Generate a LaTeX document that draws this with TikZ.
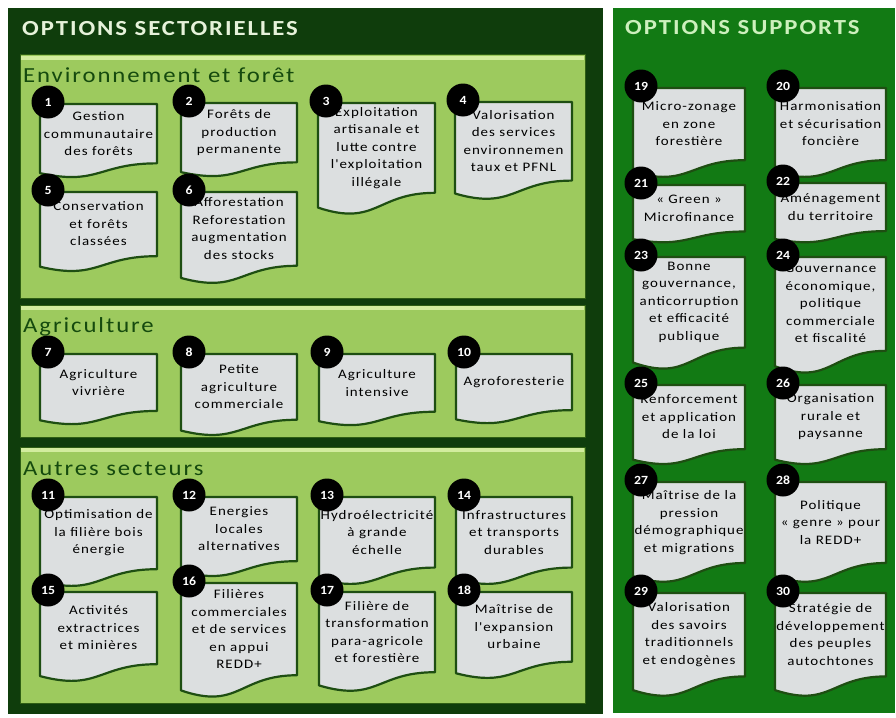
\documentclass[tikz,border=0pt]{standalone}
\usepackage{fontspec}
\setmainfont{Carlito}
\newfontfamily\docfont{Carlito}[FakeStretch=1.15,LetterSpace=8]
\newfontfamily\headfont{Carlito}[FakeStretch=1.15,LetterSpace=9]
\newfontfamily\numfont{Carlito}[FakeStretch=1.1]
\definecolor{leftframe}{HTML}{0F3D0C}
\definecolor{rightframe}{HTML}{127A14}
\definecolor{panelgreen}{HTML}{9DCA5E}
\definecolor{panelhi}{HTML}{D2EC9E}
\definecolor{paneledge}{HTML}{2E5E14}
\definecolor{docfill}{HTML}{DCDFE0}
\definecolor{docline}{HTML}{1E4E12}
\definecolor{headgreen}{HTML}{154A0E}
\definecolor{titleL}{HTML}{E6F2DA}
\definecolor{titleR}{HTML}{CDF0BD}
\tikzset{
  docbody/.style={fill=docfill, draw=docline, line width=2.2pt, line join=round},
  doctext/.style={font=\docfont\fontsize{13}{17.5}\selectfont, align=center, text=black, inner sep=0pt},
  numcirc/.style={circle, fill=black, minimum size=33pt, inner sep=0pt, text=white, font=\numfont\bfseries\fontsize{12.5}{12.5}\selectfont},
  panel/.style={fill=panelgreen, draw=paneledge, line width=1pt},
  heading/.style={anchor=base west, inner sep=0pt, text=headgreen, font=\headfont\fontsize{21.5}{21.5}\selectfont},
  titletext/.style={anchor=base west, inner sep=0pt, font=\headfont\bfseries\fontsize{21.5}{21.5}\selectfont},
}
\newcommand{\docitem}[7]{%
  \filldraw[docbody] (#2,#3) -- ({#2+#4},#3) -- ({#2+#4},{#3+0.802*#5}) .. controls ({#2+0.5*#4},{#3+0.802*#5}) and ({#2+0.5*#4},{#3+1.1075*#5}) .. (#2,{#3+0.934*#5}) -- cycle;
  \node[doctext] (#1) at ({#2+0.5*#4},{#3+0.40*#5}) {#7};
  \node[numcirc] (n#1) at ({#2+8},{#3-2}) {#6};
}
\begin{document}
\begin{tikzpicture}[x=1pt,y=-1pt]
\useasboundingbox (0,0) rectangle (896,717);
\fill[white] (0,0) rectangle (896,717);
% frames
\fill[leftframe] (8,8) rectangle (603,714);
\fill[rightframe] (613,8) rectangle (895,713);
\node[titletext, text=titleL] (tl) at (22,36) {OPTIONS SECTORIELLES};
\node[titletext, text=titleR] (tr) at (625,35) {OPTIONS SUPPORTS};
% panels
\filldraw[panel] (20,55) rectangle (585,298);
\fill[panelhi] (21,56) rectangle (584,60);
\filldraw[panel] (20,305) rectangle (585,437);
\fill[panelhi] (21,306) rectangle (584,310);
\filldraw[panel] (20,447) rectangle (585,703);
\fill[panelhi] (21,448) rectangle (584,452);
\node[heading] (h1) at (23,82) {Environnement et forêt};
\node[heading] (h2) at (23,332) {Agriculture};
\node[heading] (h3) at (23,475) {Autres secteurs};
% panel 1
\docitem{d1}{40}{104}{117}{74}{1}{Gestion\\communautaire\\des forêts}
\docitem{d2}{181}{103}{116}{74}{2}{Forêts de\\production\\permanente}
\docitem{d3}{318}{103}{117}{112}{3}{Exploitation\\artisanale et\\lutte contre\\l'exploitation\\illégale}
\docitem{d4}{455}{102}{117}{98}{4}{Valorisation\\des services\\environnemen\\taux et PFNL}
\docitem{d5}{40}{192}{117}{80}{5}{Conservation\\et forêts\\classées}
\docitem{d6}{181}{192}{116}{92}{6}{Afforestation\\Reforestation\\augmentation\\des stocks}
% panel 2
\docitem{d7}{40}{354}{117}{71}{7}{Agriculture\\vivrière}
\docitem{d8}{181}{354}{116}{82}{8}{Petite\\agriculture\\commerciale}
\docitem{d9}{319}{354}{116}{72}{9}{Agriculture\\intensive}
\docitem{d10}{456}{354}{116}{70}{10}{Agroforesterie}
% panel 3
\docitem{d11}{40}{497}{117}{90}{11}{Optimisation de\\la filière bois\\énergie}
\docitem{d12}{181}{497}{116}{80}{12}{Energies\\locales\\alternatives}
\docitem{d13}{319}{497}{116}{88}{13}{Hydroélectricité\\à grande\\échelle}
\docitem{d14}{456}{497}{116}{88}{14}{Infrastructures\\et transports\\durables}
\docitem{d15}{40}{592}{117}{90}{15}{Activités\\extractrices\\et minières}
\docitem{d16}{181}{583}{116}{115}{16}{Filières\\commerciales\\et de services\\en appui\\REDD+}
\docitem{d17}{319}{592}{116}{100}{17}{Filière de\\transformation\\para-agricole\\et forestière}
\docitem{d18}{456}{592}{116}{87}{18}{Maîtrise de\\l'expansion\\urbaine}
% supports
\docitem{d19}{633}{88}{112}{90}{19}{Micro-zonage\\en zone\\forestière}
\docitem{d20}{775}{88}{111}{90}{20}{Harmonisation\\et sécurisation\\foncière}
\docitem{d21}{633}{185}{112}{58}{21}{« Green »\\Microfinance}
\docitem{d22}{775}{183}{111}{60}{22}{Aménagement\\du territoire}
\docitem{d23}{633}{257}{112}{113}{23}{Bonne\\gouvernance,\\anticorruption\\et efficacité\\publique}
\docitem{d24}{775}{257}{111}{117}{24}{Gouvernance\\économique,\\politique\\commerciale\\et fiscalité}
\docitem{d25}{633}{385}{112}{80}{25}{Renforcement\\et application\\de la loi}
\docitem{d26}{775}{385}{111}{80}{26}{Organisation\\rurale et\\paysanne}
\docitem{d27}{633}{482}{112}{101}{27}{Maîtrise de la\\pression\\démographique\\et migrations}
\docitem{d28}{775}{482}{111}{101}{28}{Politique\\« genre » pour\\la REDD+}
\docitem{d29}{633}{593}{112}{104}{29}{Valorisation\\des savoirs\\traditionnels\\et endogènes}
\docitem{d30}{775}{593}{111}{104}{30}{Stratégie de\\développement\\des peuples\\autochtones}
\end{tikzpicture}
\end{document}
